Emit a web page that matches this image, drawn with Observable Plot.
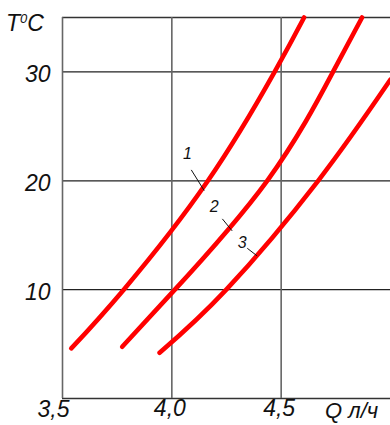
<!DOCTYPE html>
<html>
<head>
<meta charset="utf-8">
<script src="https://cdn.jsdelivr.net/npm/d3@7"></script>
<script src="https://cdn.jsdelivr.net/npm/@observablehq/plot@0.6"></script>
<style>
  html, body { margin: 0; padding: 0; background: #fff; }
  #chart svg { display: block; }
</style>
</head>
<body>
<div id="chart"></div>
<script>
// ---- data ----
const xTicks = [3.5, 4.0, 4.5];
const xTickLabels = ["3,5", "4,0", "4,5"];
const yTicks = [10, 20, 30];
const yTickLabels = ["10", "20", "30"];

const curve1Q = [3.54, 3.78, 4.165, 4.47, 4.605];
const curve1T = [4.6, 10, 20, 30, 35];
const curve2Q = [3.773, 4.0, 4.436, 4.737, 4.87];
const curve2T = [4.75, 9.7, 20, 30, 35];
const curve3Q = [3.944, 4.249, 4.669, 5.0];
const curve3T = [4.2, 10, 20, 29.3];

const curveNames = ["1", "2", "3"];
const labelQ = [4.071, 4.194, 4.322];
const labelT = [22.5, 17.6, 14.3];
const leaderQ1 = [4.089, 4.231, 4.345];
const leaderT1 = [21.0, 16.5, 13.8];
const leaderQ2 = [4.148, 4.276, 4.390];
const leaderT2 = [19.1, 15.4, 13.1];

// ---- build tables ----
const lines = [];
[[curve1Q, curve1T], [curve2Q, curve2T], [curve3Q, curve3T]].forEach(([qs, ts], i) => {
  qs.forEach((q, j) => lines.push({series: curveNames[i], q, t: ts[j]}));
});
const labels = curveNames.map((n, i) => ({n, q: labelQ[i], t: labelT[i]}));
const leaders = curveNames.map((n, i) => ({q1: leaderQ1[i], t1: leaderT1[i], q2: leaderQ2[i], t2: leaderT2[i]}));
const xt = xTicks.map((v, i) => ({v, s: xTickLabels[i]}));
const yt = yTicks.map((v, i) => ({v, s: yTickLabels[i]}));

const FONT = "'Liberation Sans', Arial, sans-serif";
const big = {fontSize: 23, fontStyle: "italic", fill: "#111"};

const chart = Plot.plot({
  width: 390,
  height: 425,
  marginLeft: 62,
  marginRight: 0,
  marginTop: 17,
  marginBottom: 27,
  style: {fontFamily: FONT, background: "#fff", overflow: "visible"},
  x: {domain: [3.5, 5.0], axis: null},
  y: {domain: [0, 35], axis: null},
  marks: [
    // grid + frame
    Plot.ruleY(yTicks, {stroke: "#222", strokeWidth: 1.2}),
    Plot.ruleY([0, 35], {stroke: "#333", strokeWidth: 1.4}),
    Plot.ruleX(xTicks, {stroke: "#666", strokeWidth: 1.6}),
    // curves
    Plot.line(lines, {x: "q", y: "t", z: "series", stroke: "#ff0000", strokeWidth: 4.6,
      strokeLinecap: "round", strokeLinejoin: "round", curve: "natural"}),
    // leaders + labels
    Plot.link(leaders, {x1: "q1", y1: "t1", x2: "q2", y2: "t2", stroke: "#111", strokeWidth: 1}),
    Plot.text(labels, {x: "q", y: "t", text: "n", fontSize: 16, fontStyle: "italic", fill: "#111"}),
    // y tick labels
    Plot.text(yt, {y: "v", text: "s", frameAnchor: "left", textAnchor: "end", dx: -12, dy: 3, ...big}),
    // x tick labels
    Plot.text(xt.filter(d => d.v !== 3.5), {x: "v", text: "s", frameAnchor: "bottom", dy: 17, dx: -2, ...big}),
    Plot.text(xt.filter(d => d.v === 3.5), {x: "v", text: "s", frameAnchor: "bottom", dy: 18, dx: -9, ...big})
  ]
});

document.getElementById("chart").appendChild(chart);

// axis titles
const svg = d3.select(chart);
const t = svg.append("text")
  .attr("x", 6).attr("y", 31)
  .attr("text-anchor", "start")
  .attr("font-family", FONT).attr("font-style", "italic")
  .attr("font-size", 23).attr("fill", "#111");
t.append("tspan").text("T");
t.append("tspan").attr("font-size", 13).attr("dy", -8).text("0");
t.append("tspan").attr("dy", 8).text("C");

svg.append("text")
  .attr("x", 325).attr("y", 418)
  .attr("text-anchor", "start")
  .attr("font-family", FONT).attr("font-style", "italic")
  .attr("font-size", 22).attr("fill", "#111")
  .text("Q л/ч");
</script>
</body>
</html>
